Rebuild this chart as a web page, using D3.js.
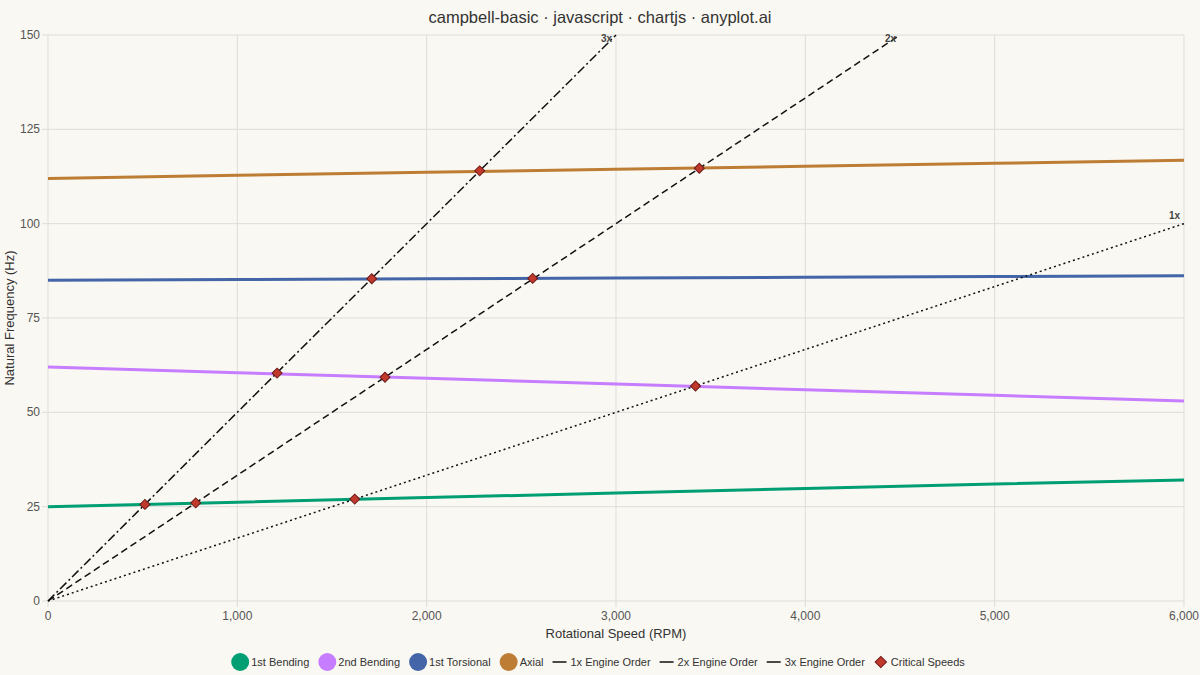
<!DOCTYPE html>
<html><head><meta charset="utf-8">
<script src="https://cdn.jsdelivr.net/npm/d3@7"></script>
<style>body{margin:0;background:#faf8f2;font-family:"Liberation Sans",Arial,sans-serif}</style>
</head><body><svg id="c" width="1200" height="675"></svg>
<script>
const rpm = [0,1000,2000,3000,4000,5000,6000];
const bending1 = [25,26.2,27.4,28.6,29.8,31,32.1];
const bending2 = [62,60.5,59,57.5,56,54.5,53];
const torsional1 = [85,85.2,85.4,85.6,85.8,86,86.2];
const axial = [112,112.8,113.6,114.4,115.2,116,116.8];
const orders = [{name:"1x",label:"1x Engine Order",end:[6000,100],dash:"2,3"},
                {name:"2x",label:"2x Engine Order",end:[4500,150],dash:"7,4"},
                {name:"3x",label:"3x Engine Order",end:[3000,150],dash:"9,3,2,3"}];
const critRpm = [512,780,1620,1210,1780,3420,1710,2560,2280,3440];
const critHz  = [25.6,26,27,60.4,59.3,57,85.4,85.5,114,114.7];
const xTicks=[0,1000,2000,3000,4000,5000,6000], yTicks=[0,25,50,75,100,125,150];

const modes=[{n:"1st Bending",v:bending1,c:"#009e73"},{n:"2nd Bending",v:bending2,c:"#c77dff"},
 {n:"1st Torsional",v:torsional1,c:"#4466a8"},{n:"Axial",v:axial,c:"#bd7d35"}];
const svg=d3.select("#c");
const L=48,R=1184,T=35,B=601;
const x=d3.scaleLinear().domain([0,6000]).range([L,R]);
const y=d3.scaleLinear().domain([0,150]).range([B,T]);
svg.append("text").attr("x",600).attr("y",23).attr("text-anchor","middle").attr("font-size",16.5).attr("fill","#333").text("campbell-basic · javascript · chartjs · anyplot.ai");
const g=svg.append("g");
g.selectAll(".gx").data(xTicks).join("line").attr("x1",d=>x(d)).attr("x2",d=>x(d)).attr("y1",T).attr("y2",B+6).attr("stroke","#ddd");
g.selectAll(".gy").data(yTicks).join("line").attr("x1",L-6).attr("x2",R).attr("y1",d=>y(d)).attr("y2",d=>y(d)).attr("stroke","#ddd");
g.selectAll(".tx").data(xTicks).join("text").attr("x",d=>x(d)).attr("y",B+19).attr("text-anchor","middle").attr("font-size",12).attr("fill","#555").text(d3.format(","));
g.selectAll(".ty").data(yTicks).join("text").attr("x",L-8).attr("y",d=>y(d)+4).attr("text-anchor","end").attr("font-size",12).attr("fill","#555").text(d=>d);
svg.append("text").attr("x",(L+R)/2).attr("y",638).attr("text-anchor","middle").attr("font-size",13).attr("fill","#333").text("Rotational Speed (RPM)");
svg.append("text").attr("transform",`translate(14,${(T+B)/2}) rotate(-90)`).attr("text-anchor","middle").attr("font-size",13).attr("fill","#333").text("Natural Frequency (Hz)");
const line=d3.line().x((d,i)=>x(rpm[i])).y(d=>y(d));
modes.forEach(m=>svg.append("path").attr("d",line(m.v)).attr("fill","none").attr("stroke",m.c).attr("stroke-width",3));
orders.forEach(o=>{
 svg.append("line").attr("x1",x(0)).attr("y1",y(0)).attr("x2",x(o.end[0])).attr("y2",y(o.end[1])).attr("stroke","#111").attr("stroke-width",1.5).attr("stroke-dasharray",o.dash);
 svg.append("text").attr("x",x(o.end[0])-4).attr("y",y(o.end[1])+(o.end[1]>=150?7:-5)).attr("text-anchor","end").attr("font-size",10).attr("font-weight","bold").attr("fill","#444").text(o.name);
});
const sym=d3.symbol().type(d3.symbolSquare).size(50);
critRpm.forEach((r,i)=>svg.append("path").attr("d",sym()).attr("transform",`translate(${x(r)},${y(critHz[i])}) rotate(45)`).attr("fill","#c0392b").attr("stroke","#6a1a1a").attr("stroke-width",1));
// legend
const items=[...modes.map(m=>({t:"circle",c:m.c,n:m.n})),...orders.map(o=>({t:"line",n:o.label})),{t:"diamond",n:"Critical Speeds"}];
const lg=svg.append("g");const ly=662;
const parts=items.map(it=>{const gg=lg.append("g");
 if(it.t==="circle")gg.append("circle").attr("cx",9).attr("cy",ly).attr("r",9).attr("fill",it.c);
 else if(it.t==="line")gg.append("line").attr("x1",0).attr("x2",14).attr("y1",ly).attr("y2",ly).attr("stroke","#111").attr("stroke-width",1.5);
 else gg.append("path").attr("d",d3.symbol().type(d3.symbolSquare).size(64)()).attr("transform",`translate(7,${ly}) rotate(45)`).attr("fill","#c0392b").attr("stroke","#6a1a1a");
 const off=it.t==="circle"?20:it.t==="line"?18:17;
 const t=gg.append("text").attr("x",off).attr("y",ly+4).attr("font-size",11).attr("fill","#333").text(it.n);
 return {gg,w:off+t.node().getComputedTextLength()};});
const gap=9;const total=d3.sum(parts,p=>p.w)+gap*(parts.length-1);
let sx=598-total/2;
parts.forEach(p=>{p.gg.attr("transform",`translate(${sx},0)`);sx+=p.w+gap;});
</script></body></html>
